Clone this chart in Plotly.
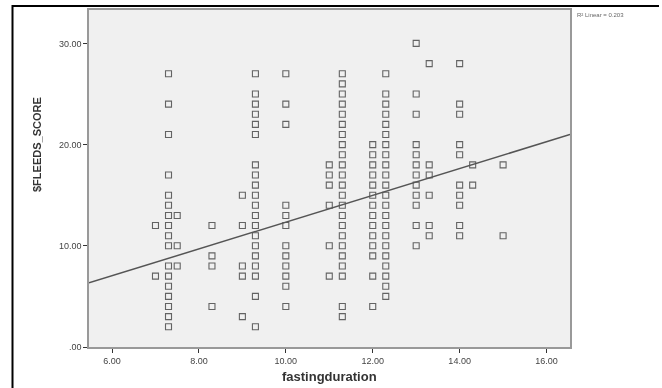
import plotly.graph_objects as go

# Fasting duration levels (x) and the $FLEEDS_SCORE values observed at each level
x_levels = [7.0, 7.3, 7.5, 8.3, 9.0, 9.3, 10.0, 11.0, 11.3, 12.0, 12.3, 13.0, 13.3, 14.0, 14.3, 15.0]

scores_7_0 = [12, 7]
scores_7_3 = [27, 24, 21, 17, 15, 14, 13, 12, 11, 10, 8, 7, 6, 5, 4, 3, 2]
scores_7_5 = [13, 10, 8]
scores_8_3 = [12, 9, 8, 4]
scores_9_0 = [15, 12, 8, 7, 3]
scores_9_3 = [27, 25, 24, 23, 22, 21, 18, 17, 16, 15, 14, 13, 12, 11, 10, 9, 8, 7, 5, 2]
scores_10_0 = [27, 24, 22, 14, 13, 12, 10, 9, 8, 7, 6, 4]
scores_11_0 = [18, 17, 16, 14, 10, 7]
scores_11_3 = [27, 26, 25, 24, 23, 22, 21, 20, 19, 18, 17, 16, 15, 14, 13, 12, 11, 10, 9, 8, 7, 4, 3]
scores_12_0 = [20, 19, 18, 17, 16, 15, 14, 13, 12, 11, 10, 9, 7, 4]
scores_12_3 = [27, 25, 24, 23, 22, 21, 20, 19, 18, 17, 16, 15, 14, 13, 12, 11, 10, 9, 8, 7, 6, 5]
scores_13_0 = [30, 25, 23, 20, 19, 18, 17, 16, 15, 14, 12, 10]
scores_13_3 = [28, 18, 17, 15, 12, 11]
scores_14_0 = [28, 24, 23, 20, 19, 16, 15, 14, 12, 11]
scores_14_3 = [18, 16]
scores_15_0 = [18, 11]

score_columns = [scores_7_0, scores_7_3, scores_7_5, scores_8_3, scores_9_0, scores_9_3,
                 scores_10_0, scores_11_0, scores_11_3, scores_12_0, scores_12_3,
                 scores_13_0, scores_13_3, scores_14_0, scores_14_3, scores_15_0]

# Linear fit
fit_intercept = -0.9
fit_slope = 1.324
r2_label = "R² Linear = 0.203"

x_tick_vals = [6, 8, 10, 12, 14, 16]
x_tick_text = ["6.00", "8.00", "10.00", "12.00", "14.00", "16.00"]
y_tick_vals = [0, 10, 20, 30]
y_tick_text = [".00", "10.00", "20.00", "30.00"]

xs, ys = [], []
for xv, col in zip(x_levels, score_columns):
    for s in col:
        xs.append(xv)
        ys.append(s)

x_range = [5.47, 16.54]
y_range = [0, 33.3]

fig = go.Figure()
fig.add_trace(go.Scatter(
    x=xs, y=ys, mode="markers",
    marker=dict(symbol="square-open", size=6, color="#4a4a4a", line=dict(width=1.1)),
    opacity=0.85, hoverinfo="skip", showlegend=False))
fig.add_trace(go.Scatter(
    x=x_range, y=[fit_intercept + fit_slope * v for v in x_range], mode="lines",
    line=dict(color="#555555", width=1.5), hoverinfo="skip", showlegend=False))

L, R, T, B = 89, 92, 10, 41
W, H = 662, 388
pw, ph = W - L - R, H - T - B

def px(xp):
    return (xp - L) / pw

def py(yp):
    return (H - B - yp) / ph

FONT = "Liberation Sans, Arial, sans-serif"
axis_font = dict(family=FONT, size=9, color="#444444")
fig.update_layout(
    width=W, height=H, margin=dict(l=L, r=R, t=T, b=B, autoexpand=False),
    paper_bgcolor="white", plot_bgcolor="#f0f0f0",
    xaxis=dict(range=x_range, tickvals=x_tick_vals, ticktext=x_tick_text,
               ticks="outside", ticklen=4, tickcolor="#333333", tickfont=axis_font,
               showgrid=False, zeroline=False, showline=True, linecolor="#999999",
               linewidth=1.5, mirror=True),
    yaxis=dict(range=y_range, tickvals=y_tick_vals, ticktext=y_tick_text,
               ticks="outside", ticklen=4, tickcolor="#333333", tickfont=axis_font,
               showgrid=False, zeroline=False, showline=True, linecolor="#999999",
               linewidth=1.5, mirror=True),
    annotations=[
        dict(text="<b>fastingduration</b>", xref="paper", yref="paper", x=0.5, y=py(376),
             showarrow=False, xanchor="center", yanchor="middle",
             font=dict(family=FONT, size=13, color="#333333")),
        dict(text="<b>$FLEEDS_SCORE</b>", xref="paper", yref="paper", x=px(37), y=py(145),
             textangle=-90, showarrow=False, xanchor="center", yanchor="middle",
             font=dict(family=FONT, size=11, color="#333333")),
        dict(text=r2_label, xref="paper", yref="paper", x=px(575), y=py(15),
             showarrow=False, xanchor="left", yanchor="middle",
             font=dict(family=FONT, size=6, color="#666666")),
    ],
    shapes=[
        dict(type="line", xref="paper", yref="paper", x0=px(12.5), x1=px(12.5), y0=py(5), y1=py(390),
             line=dict(color="black", width=2)),
        dict(type="line", xref="paper", yref="paper", x0=px(12), x1=px(659), y0=py(6), y1=py(6),
             line=dict(color="black", width=2)),
    ],
)

fig.write_html("out.html", config={"displayModeBar": False},
               post_script="document.body.style.margin='0';document.body.style.padding='0';")
